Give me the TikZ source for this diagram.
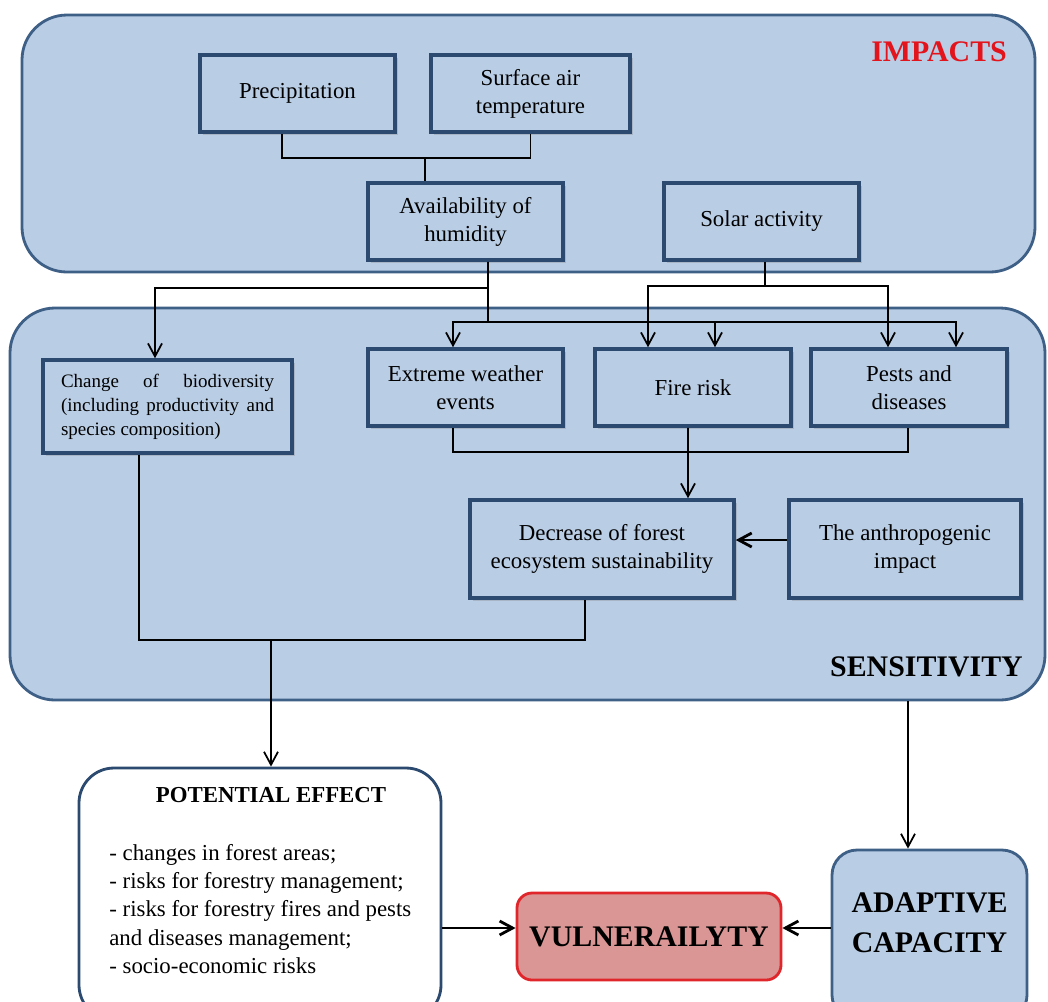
\documentclass[tikz,border=0pt]{standalone}
\usepackage{fontspec}
\setmainfont{Liberation Serif}
\usetikzlibrary{positioning,arrows.meta,calc,shadows}
\definecolor{panelblue}{HTML}{B9CDE5}
\definecolor{paneledge}{HTML}{3E5F86}
\definecolor{boxedge}{HTML}{2C4A70}
\definecolor{vulfill}{HTML}{D99694}
\definecolor{vuledge}{HTML}{E0262B}
\definecolor{impred}{HTML}{E3141B}

\begin{document}
\begin{tikzpicture}[
  every node/.style={font=\fontsize{13}{16}\selectfont,align=center},
  panel/.style={draw=paneledge,line width=1.6pt,fill=panelblue,rounded corners=0.9cm},
  box/.style={draw=boxedge,line width=2pt,fill=panelblue,minimum width=3.9cm,minimum height=1.54cm,
    drop shadow={shadow xshift=0.5mm,shadow yshift=-0.6mm,opacity=0.3}},
  big/.style={font=\fontsize{17}{23}\selectfont\bfseries},
  line/.style={line width=1pt},
  arr/.style={-{Straight Barb[length=2.6mm,width=2.8mm]},line width=1pt},
  arrthick/.style={arr,line width=1.6pt}
]
  \clip (0,0) rectangle (20.96,-20.02);
  \fill[white] (0,0) rectangle (20.96,-20.02);

  % impacts
  \node[panel,minimum width=20.26cm,minimum height=5.14cm] (impacts) at (10.57,-2.87) {};
  \node[big,text=impred,anchor=east] (imptitle) at (20.26,-1.04) {IMPACTS};
  \node[box] (prec) at (5.95,-1.87) {Precipitation};
  \node[box,minimum width=3.98cm] (surf) at (10.61,-1.87) {Surface air\\temperature};
  \node[box] (avail) at (9.31,-4.43) {Availability of\\humidity};
  \node[box] (solar) at (15.23,-4.43) {Solar activity};

  % sensitivity
  \node[panel,minimum width=20.70cm,minimum height=7.84cm] (sens) at (10.55,-10.08) {};
  \node[big,anchor=east] (senstitle) at (20.58,-13.34) {SENSITIVITY};
  \node[box,minimum width=4.98cm,minimum height=1.86cm,text width=4.26cm,align=justify,
    font=\fontsize{10.8}{13.6}\selectfont] (bio) at (3.35,-8.13)
    {Change of biodiversity\linebreak (including productivity and\linebreak species composition)};
  \node[box] (extreme) at (9.31,-7.75) {Extreme weather\\events};
  \node[box,minimum width=3.92cm] (fire) at (13.86,-7.75) {Fire risk};
  \node[box,minimum width=3.92cm] (pests) at (18.18,-7.75) {Pests and\\diseases};
  \node[box,minimum width=5.28cm,minimum height=1.96cm] (decr) at (12.04,-10.98)
    {Decrease of forest\\ecosystem sustainability};
  \node[box,minimum width=4.64cm,minimum height=1.96cm] (anthro) at (18.10,-10.98)
    {The anthropogenic\\impact};

  % outcome
  \node[draw=boxedge,line width=1.6pt,fill=white,rounded corners=0.7cm,
    minimum width=7.24cm,minimum height=5.04cm] (effect) at (5.20,-17.88) {};
  \node[font=\fontsize{13}{16}\selectfont\bfseries] (efftitle) at (5.42,-15.90) {POTENTIAL EFFECT};
  \node[anchor=west,align=left,inner sep=0pt,font=\fontsize{13}{16.2}\selectfont] (efflist) at (2.18,-18.18)
    {- changes in forest areas;\\- risks for forestry management;\\- risks for forestry fires and pests\\and diseases management;\\- socio-economic risks};
  \node[draw=vuledge,fill=vulfill,line width=1.6pt,rounded corners=0.3cm,
    minimum width=5.28cm,minimum height=1.74cm,big] (vul) at (12.98,-18.73) {VULNERAILYTY};
  \node[panel,rounded corners=0.5cm,minimum width=3.9cm,minimum height=3.4cm] (adapt) at (18.59,-18.70) {};
  \node[big] (adapttext) at (18.59,-18.45) {ADAPTIVE\\CAPACITY};

  % connectors
  \coordinate (hj) at (8.5,-3.16);
  \draw[line] ([xshift=-3.1mm]prec.south) |- (hj) -| (surf.south);
  \draw[line] (hj) -- (hj |- avail.north);

  \coordinate (aj) at (9.76,-5.76);
  \coordinate (ej) at (9.76,-6.44);
  \draw[arr] ([xshift=4.5mm]avail.south) -- (aj) -| ([xshift=-2.5mm]bio.north);
  \draw[line] (aj) -- (ej);
  \draw[arr] (ej) -| ([xshift=-2.5mm]extreme.north);
  \draw[arr] (ej) -| ([xshift=4.4mm]fire.north);
  \draw[arr] (ej) -| ([xshift=9.4mm]pests.north);

  \coordinate (sj) at (15.30,-5.72);
  \draw[line] (solar.south -| sj) -- (sj);
  \draw[arr] (sj) -| ([xshift=-9mm]fire.north);
  \draw[arr] (sj) -| ([xshift=-4.2mm]pests.north);

  \coordinate (fj) at (13.76,-9.04);
  \draw[line] ([xshift=-2.5mm]extreme.south) |- (fj) -| ([xshift=-0.2mm]pests.south);
  \draw[arr] ([xshift=-1mm]fire.south) -- (fj |- decr.north);
  \draw[arrthick] ([yshift=1.8mm]anthro.west) -- ([yshift=1.8mm]decr.east);

  \coordinate (gj) at (5.42,-12.80);
  \draw[line] ([xshift=-5.7mm]bio.south) |- (gj) -| ([xshift=-3.4mm]decr.south);
  \draw[arr] (gj) -- (gj |- effect.north);

  \draw[arr] ($(adapt.north |- sens.south)+(-0.43,0)$) -- ($(adapt.north)+(-0.43,0)$);
  \draw[arrthick] ($(effect.east |- vul.west)+(0,0.17)$) -- ($(vul.west)+(0,0.17)$);
  \draw[arrthick] ($(adapt.west |- vul.east)+(0,0.17)$) -- ($(vul.east)+(0,0.17)$);
\end{tikzpicture}
\end{document}
